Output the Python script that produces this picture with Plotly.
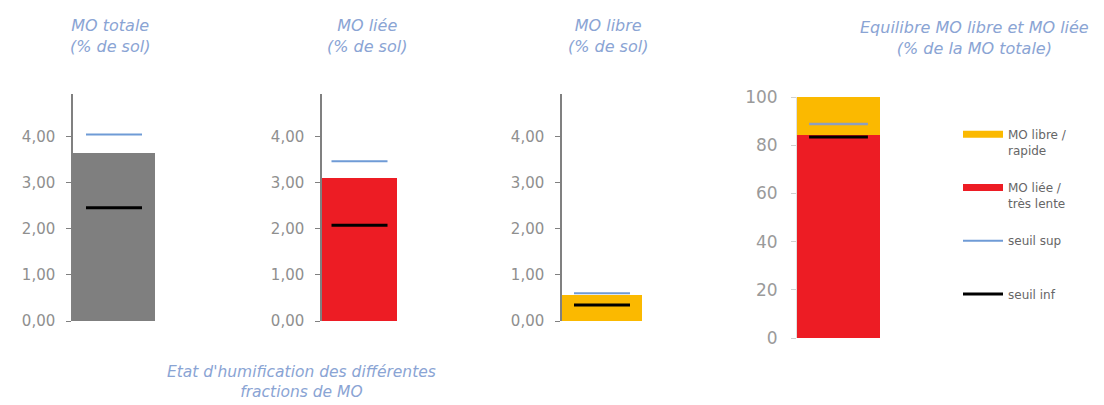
import plotly.graph_objects as go

# ---- data ----
panels = ["MO totale", "MO liée", "MO libre"]
valeurs = [3.65, 3.10, 0.56]           # % de sol
seuil_sup = [4.05, 3.47, 0.60]
seuil_inf = [2.46, 2.08, 0.35]
couleurs = ["#7f7f7f", "#ed1c24", "#fbb900"]

equilibre_cat = ["Equilibre"]
pct_liee = [84.2]
pct_libre = [15.8]
eq_seuil_sup = [88.8]
eq_seuil_inf = [83.4]

yticks_pct_sol = [0, 1, 2, 3, 4]
yticks_eq = [0, 20, 40, 60, 80, 100]

titres = ["MO totale<br>(% de sol)", "MO liée<br>(% de sol)", "MO libre<br>(% de sol)",
          "Equilibre MO libre et MO liée<br>(% de la MO totale)"]
sous_titre = "Etat d'humification des différentes<br>fractions de MO"

BLUE = "#6f9bd6"
TITLE_C = "#8aa4d4"
TICK_C = "#8f8f8f"
FONT = "DejaVu Sans"

# page offset compensation (body margin of the html page)
OFF = 8
def PX(x):
    return (x - OFF) / 1104
def PY(y):
    return 1 - (y - OFF) / 405

fig = go.Figure()

xdom = [[PX(73), PX(155)], [PX(322), PX(397)], [PX(562), PX(642)], [PX(797), PX(880)]]
ydom_sol = [PY(321), PY(94)]
ydom_eq = [PY(338), PY(97)]

for i, name in enumerate(panels):
    xa = "x" if i == 0 else f"x{i+1}"
    ya = "y" if i == 0 else f"y{i+1}"
    fig.add_trace(go.Bar(x=[name], y=[valeurs[i]], marker_color=couleurs[i], marker_line_width=0,
                         showlegend=False, xaxis=xa, yaxis=ya))
    fig.add_trace(go.Scatter(x=[name], y=[seuil_sup[i]], mode="markers", showlegend=False,
                             marker=dict(symbol="line-ew", size=40, line=dict(color=BLUE, width=2)),
                             xaxis=xa, yaxis=ya))
    fig.add_trace(go.Scatter(x=[name], y=[seuil_inf[i]], mode="markers", showlegend=False,
                             marker=dict(symbol="line-ew", size=40, line=dict(color="#000000", width=3)),
                             xaxis=xa, yaxis=ya))

# panel 4 stacked
fig.add_trace(go.Bar(x=equilibre_cat, y=pct_liee, marker_color="#ed1c24", marker_line_width=0,
                     showlegend=False, xaxis="x4", yaxis="y4"))
fig.add_trace(go.Bar(x=equilibre_cat, y=pct_libre, marker_color="#fbb900", marker_line_width=0,
                     showlegend=False, xaxis="x4", yaxis="y4"))
fig.add_trace(go.Scatter(x=equilibre_cat, y=eq_seuil_sup, mode="markers", showlegend=False,
                         marker=dict(symbol="line-ew", size=42, line=dict(color="#8c9fc0", width=2.5)),
                         xaxis="x4", yaxis="y4"))
fig.add_trace(go.Scatter(x=equilibre_cat, y=eq_seuil_inf, mode="markers", showlegend=False,
                         marker=dict(symbol="line-ew", size=42, line=dict(color="#000000", width=3)),
                         xaxis="x4", yaxis="y4"))

# legend proxies
leg = [("MO libre /<br>rapide", "#fbb900", 7), ("MO liée /<br>très lente", "#ed1c24", 7),
       ("seuil sup<br> ", BLUE, 2), ("seuil inf<br> ", "#000000", 3)]
for k, (lab, col, w) in enumerate(leg):
    fig.add_trace(go.Scatter(x=[None], y=[None], mode="lines", name=lab, legendgroup=f"g{k}",
                             line=dict(color=col, width=w), xaxis="x4", yaxis="y4"))

layout = dict(
    width=1104, height=405, margin=dict(l=0, r=0, t=0, b=0, autoexpand=False), autosize=False,
    paper_bgcolor="white", plot_bgcolor="white", barmode="stack", bargap=0,
    separators=", ",
    font=dict(family=FONT, color=TICK_C),
    legend=dict(x=PX(958), y=PY(120), xanchor="left", yanchor="top", valign="top",
                font=dict(size=12, color="#666666", family=FONT), tracegroupgap=19,
                itemwidth=40, bgcolor="rgba(0,0,0,0)"),
)
for i in range(4):
    sx = "" if i == 0 else str(i+1)
    layout[f"xaxis{sx}"] = dict(domain=xdom[i], anchor=f"y{sx}", range=[-0.5, 0.5],
                                showticklabels=False, showgrid=False, zeroline=False,
                                showline=False, ticks="", fixedrange=True, automargin=False)
    if i < 3:
        layout[f"yaxis{sx}"] = dict(domain=ydom_sol, anchor=f"x{sx}", range=[0, 4.93],
                                    tickvals=yticks_pct_sol, tickformat=".2f", automargin=False,
                                    showgrid=False, zeroline=False, showline=True,
                                    linecolor="#808080", linewidth=1.5, ticks="outside",
                                    ticklen=5, tickcolor="#808080", ticklabelstandoff=8,
                                    tickfont=dict(size=15, color=TICK_C))
    else:
        layout[f"yaxis{sx}"] = dict(domain=ydom_eq, anchor=f"x{sx}", range=[0, 100],
                                    tickvals=yticks_eq, showgrid=False, zeroline=False,
                                    showline=True, linecolor="#e0e0e0", linewidth=1,
                                    automargin=False, ticklabelstandoff=10,
                                    ticks="outside", ticklen=5, tickcolor="#d0d0d0",
                                    tickfont=dict(size=17, color="#9a9a9a"))
fig.update_layout(**layout)

title_pos = [(110, 36), (367, 36), (608, 36), (974, 38)]
for (tx, ty), t in zip(title_pos, titres):
    fig.add_annotation(x=PX(tx), y=PY(ty), xref="paper", yref="paper", text=f"<i>{t}</i>",
                       showarrow=False, xanchor="center", yanchor="middle",
                       font=dict(size=16, color=TITLE_C, family=FONT))
fig.add_annotation(x=PX(301), y=PY(382), xref="paper", yref="paper", text=f"<i>{sous_titre}</i>",
                   showarrow=False, xanchor="center", yanchor="middle",
                   font=dict(size=15.5, color=TITLE_C, family=FONT))

fig.write_html("out.html")
